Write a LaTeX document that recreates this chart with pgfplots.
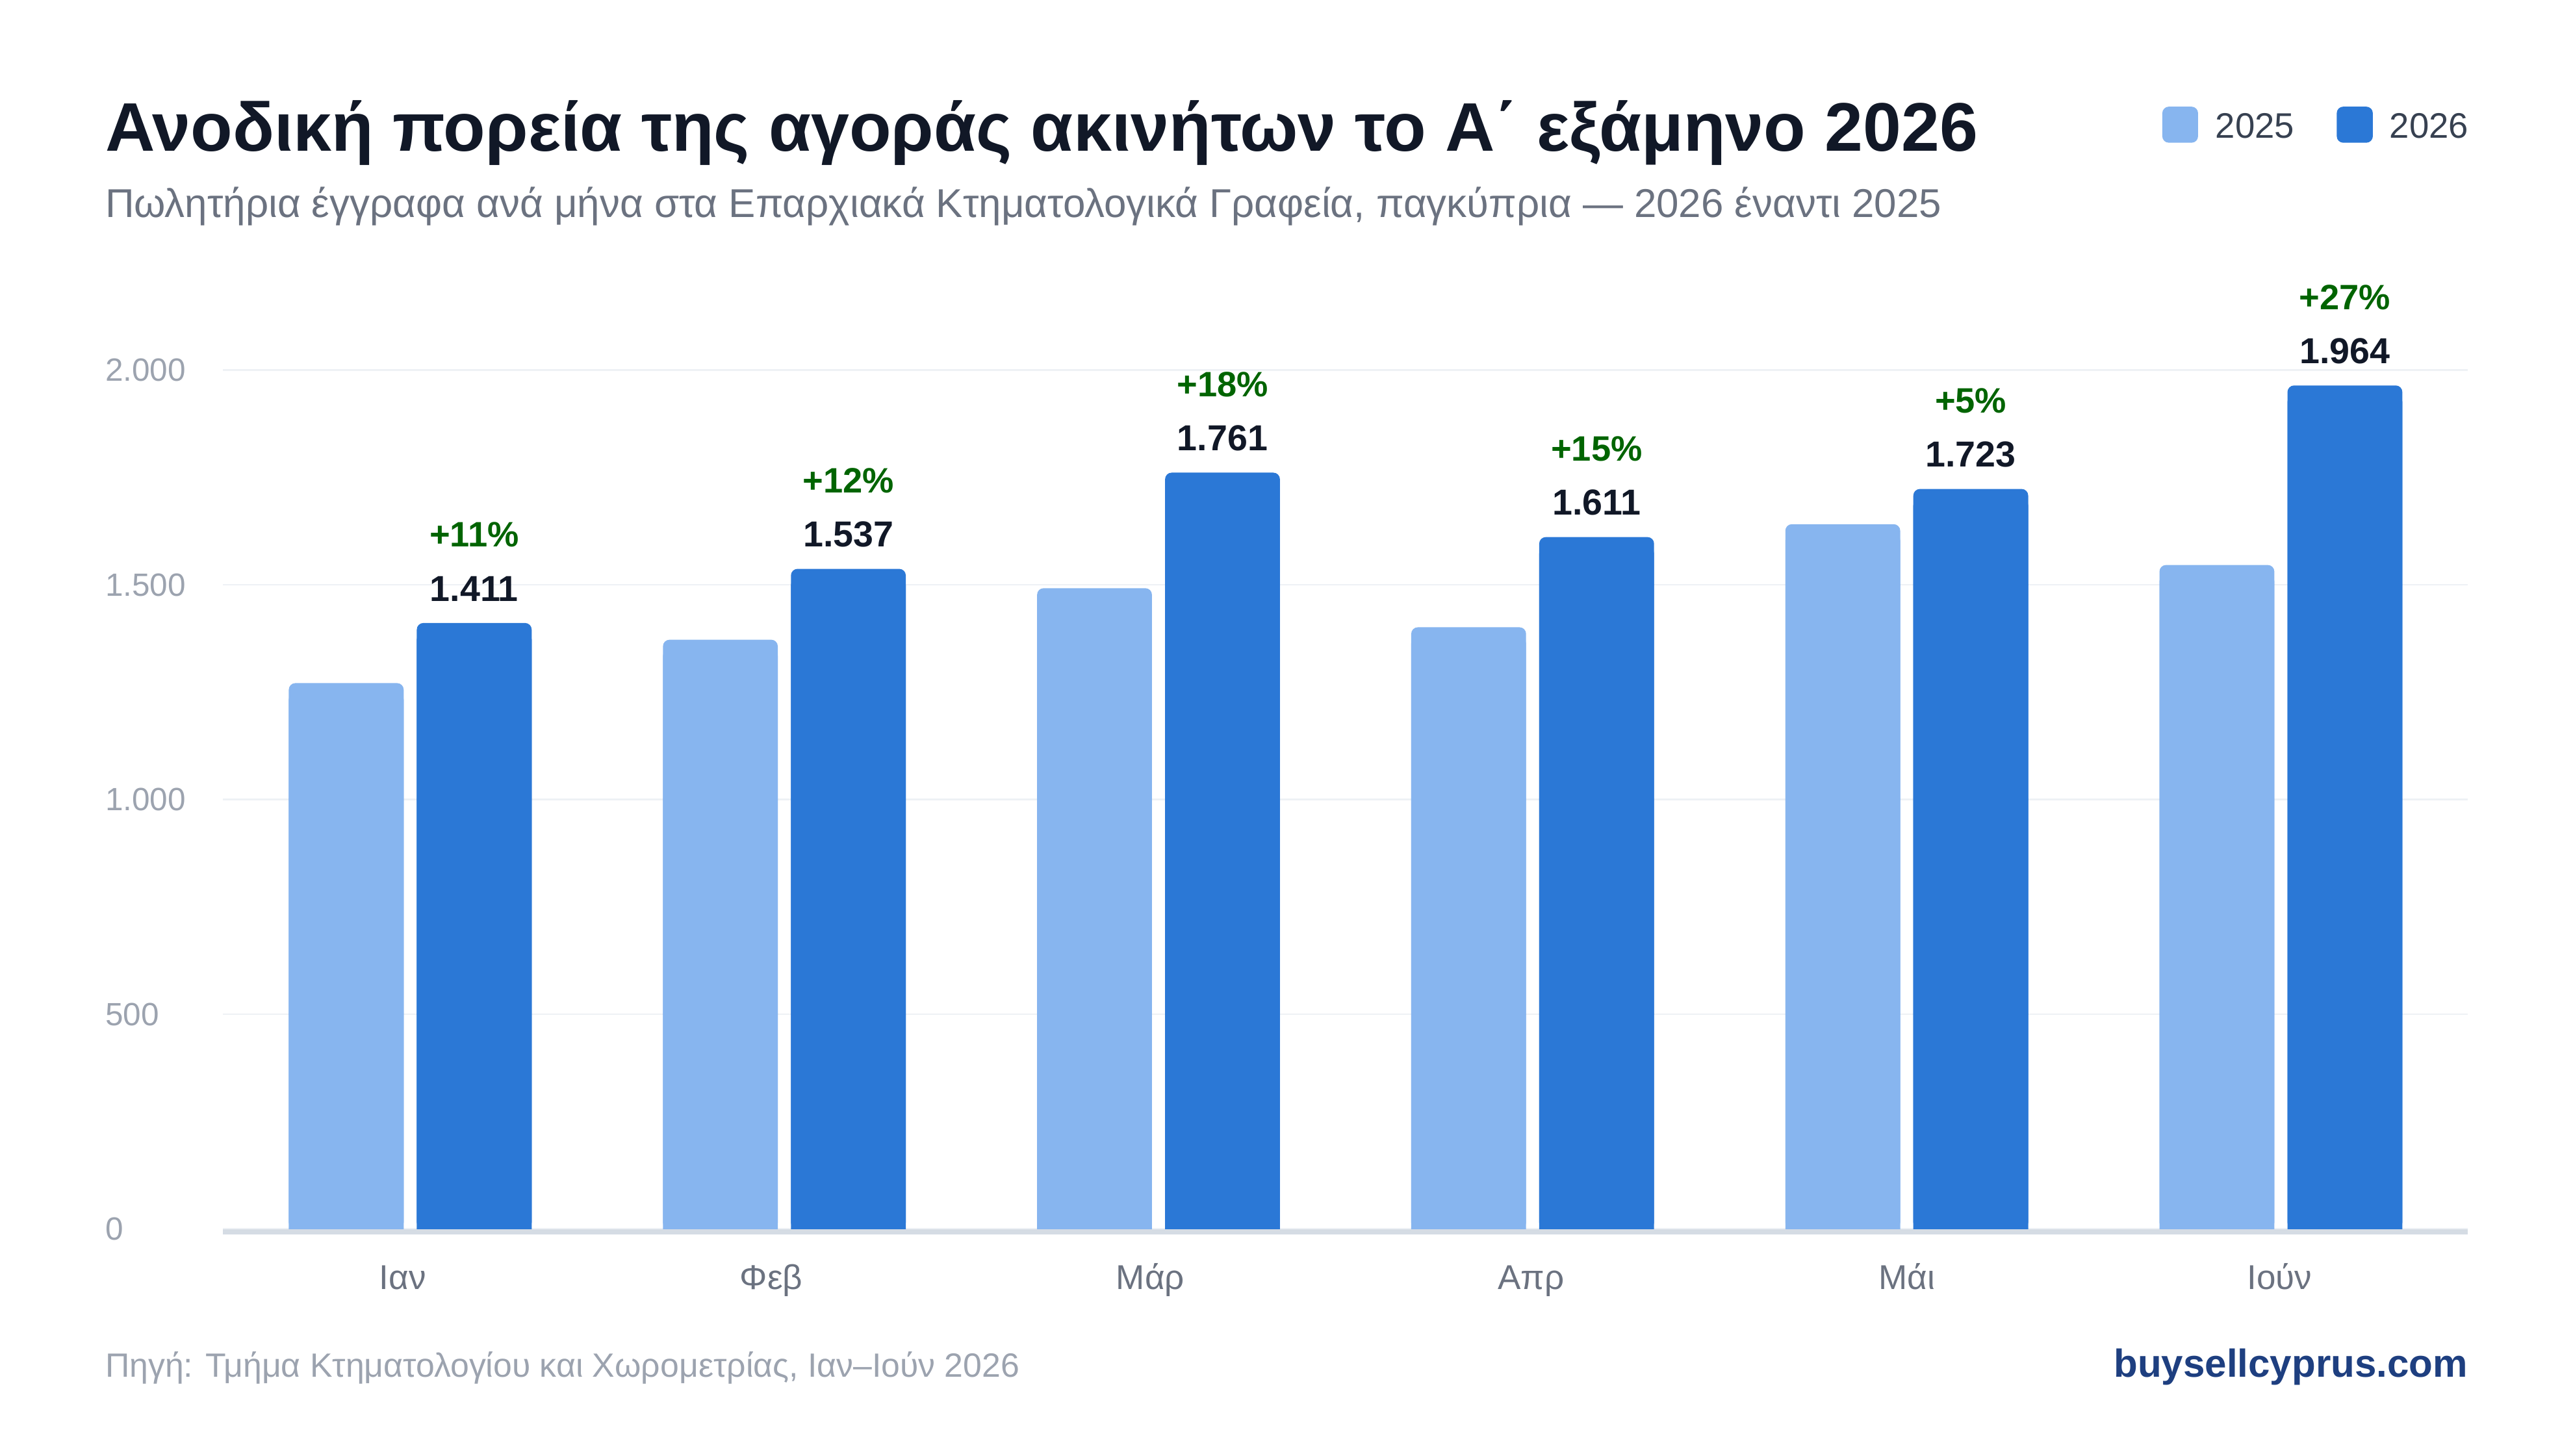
\documentclass[border=0pt]{standalone}
\usepackage{fontspec}
\setmainfont{Liberation Sans}
\usepackage{pgfplots}
\pgfplotsset{compat=1.18}
\usepackage{pgfplotstable}

\definecolor{c25}{HTML}{87B5EF}
\definecolor{c26}{HTML}{2B78D6}
\definecolor{titlecol}{HTML}{111827}
\definecolor{subcol}{HTML}{6B7280}
\definecolor{ytickcol}{HTML}{9CA3AF}
\definecolor{xtickcol}{HTML}{6B7280}
\definecolor{legcol}{HTML}{374151}
\definecolor{gridcol}{HTML}{EEF1F5}
\definecolor{basecol}{HTML}{D5DCE4}
\definecolor{valcol}{HTML}{111827}
\definecolor{pctcol}{HTML}{006400}
\definecolor{footcol}{HTML}{9CA3AF}
\definecolor{brandcol}{HTML}{1E3F80}

\pgfplotstableread{
x y25 y26 pct
0 1271 1411 11
1 1372 1537 12
2 1492 1761 18
3 1401 1611 15
4 1641 1723 5
5 1546 1964 27
}\data

\begin{document}
\begin{tikzpicture}[x=1pt,y=1pt]
\path[use as bounding box] (0,0) rectangle (1568,887);
% title and subtitle
\node[anchor=base west, inner sep=0, font=\fontsize{41.9}{48}\selectfont\bfseries, text=titlecol] at (64,795.1) {Ανοδική πορεία της αγοράς ακινήτων το Α΄ εξάμηνο 2026};
\node[anchor=base west, inner sep=0, font=\fontsize{24.5}{29}\selectfont, text=subcol] at (64,754.4) {Πωλητήρια έγγραφα ανά μήνα στα Επαρχιακά Κτηματολογικά Γραφεία, παγκύπρια — 2026 έναντι 2025};
% legend
\fill[c25, rounded corners=4pt] (1317.7,800) rectangle (1339.5,822);
\node[anchor=base west, inner sep=0, font=\fontsize{21.6}{26}\selectfont, text=legcol] at (1350,803) {2025};
\fill[c26, rounded corners=4pt] (1424,800) rectangle (1446,822);
\node[anchor=base west, inner sep=0, font=\fontsize{21.6}{26}\selectfont, text=legcol] at (1456,803) {2026};

\begin{axis}[
  at={(136pt,138pt)}, anchor=south west,
  scale only axis, width=1368pt, height=628.2pt,
  xmin=-0.5, xmax=5.5, ymin=0, ymax=2400,
  ytick={0,500,1000,1500,2000},
  xtick={-0.02,0.965,1.978,2.996,4,4.996},
  xticklabels={Ιαν,Φεβ,Μάρ,Απρ,Μάι,Ιούν},
  ymajorgrids, grid style={gridcol, line width=1pt},
  axis line style={draw=none},
  major tick length=0pt, tick style={draw=none},
  yticklabel style={anchor=west, xshift=-72pt, inner sep=0pt, font=\fontsize{19.6}{24}\selectfont, text=ytickcol},
  xticklabel style={anchor=base, yshift=-36.6pt, inner sep=0pt, font=\fontsize{21}{25}\selectfont, text=xtickcol},
  scaled y ticks=false,
  /pgf/number format/1000 sep={.},
  /pgf/number format/assume math mode=true,
]
\addplot[ybar, bar width=70pt, bar shift=-39pt, fill=c25, draw=none, rounded corners=4pt,
  preaction={fill=c25, transform canvas={yshift=-6pt}}]
  table[x=x, y=y25] {\data};
\addplot[ybar, bar width=70pt, bar shift=39pt, fill=c26, draw=none, rounded corners=4pt,
  preaction={fill=c26, transform canvas={yshift=-6pt}},
  nodes near coords,
  every node near coord/.append style={xshift=39pt, yshift=13pt, inner sep=0pt, font=\fontsize{22}{26}\selectfont\bfseries, text=valcol}]
  table[x=x, y=y26] {\data};
\addplot[ybar, bar width=70pt, bar shift=39pt, fill=none, draw=none, forget plot,
  visualization depends on={\thisrow{pct}\as\pct},
  nodes near coords={+\pgfmathprintnumber{\pct}\%},
  every node near coord/.append style={xshift=39pt, yshift=46pt, inner sep=0pt, font=\fontsize{21.5}{25}\selectfont\bfseries, text=pctcol}]
  table[x=x, y=y26] {\data};
\end{axis}
\draw[basecol, line width=3.2pt] (136,136.4) -- (1504,136.4);
% footer
\node[anchor=base west, inner sep=0, font=\fontsize{20.5}{24}\selectfont, text=footcol] at (64,47.6) {Πηγή: Τμήμα Κτηματολογίου και Χωρομετρίας, Ιαν–Ιούν 2026};
\node[anchor=base east, inner sep=0, font=\fontsize{23.8}{28}\selectfont\bfseries, text=brandcol] at (1504,47.6) {buysellcyprus.com};
\end{tikzpicture}
\end{document}
